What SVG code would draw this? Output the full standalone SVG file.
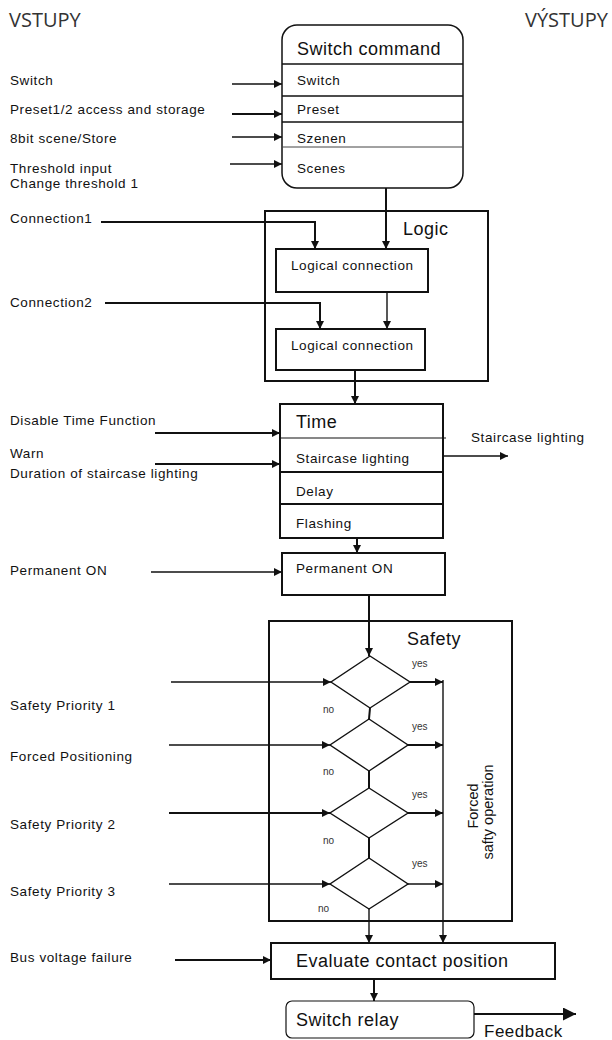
<svg xmlns="http://www.w3.org/2000/svg" width="612" height="1040" viewBox="0 0 612 1040">
<defs>
<style>
text{font-family:"Liberation Sans",Arial,sans-serif;fill:#111}
.lbl{font-size:13.5px;letter-spacing:0.6px}
.big{font-size:18px;letter-spacing:0.5px}
.hdr{font-family:"Open Sans","Noto Sans",sans-serif;font-size:20px;fill:#333}
.sm{font-size:10px;fill:#333}
.box{fill:#fff;stroke:#111;stroke-width:2}
.thin{fill:none;stroke:#111;stroke-width:1.3}
.ln{fill:none;stroke:#111;stroke-width:1.4}
.lnb{fill:none;stroke:#111;stroke-width:2}
.dia{fill:#fff;stroke:#111;stroke-width:1.4}
</style>
<marker id="arr" viewBox="0 0 10 10" refX="10" refY="5" markerWidth="9" markerHeight="8" markerUnits="userSpaceOnUse" orient="auto">
<path d="M0,0 L10,5 L0,10 z" fill="#111"/>
</marker>
<marker id="arrL" viewBox="0 0 10 10" refX="10" refY="5" markerWidth="13" markerHeight="13" markerUnits="userSpaceOnUse" orient="auto">
<path d="M0,0 L10,5 L0,10 z" fill="#111"/>
</marker>
</defs>
<rect width="612" height="1040" fill="#fff"/>

<text class="hdr" x="9" y="27">VSTUPY</text>
<text class="hdr" x="525" y="27">VÝSTUPY</text>

<g id="inputs">
<text class="lbl" x="10" y="85">Switch</text>
<text class="lbl" x="10" y="114">Preset1/2 access and storage</text>
<text class="lbl" x="10" y="143">8bit scene/Store</text>
<text class="lbl" x="10" y="173">Threshold input</text>
<text class="lbl" x="10" y="188">Change threshold 1</text>
<text class="lbl" x="10" y="223">Connection1</text>
<text class="lbl" x="10" y="307">Connection2</text>
<text class="lbl" x="10" y="425">Disable Time Function</text>
<text class="lbl" x="10" y="458">Warn</text>
<text class="lbl" x="10" y="478">Duration of staircase lighting</text>
<text class="lbl" x="10" y="575">Permanent ON</text>
<text class="lbl" x="10" y="710">Safety Priority 1</text>
<text class="lbl" x="10" y="761">Forced Positioning</text>
<text class="lbl" x="10" y="829">Safety Priority 2</text>
<text class="lbl" x="10" y="896">Safety Priority 3</text>
<text class="lbl" x="10" y="962">Bus voltage failure</text>
</g>

<g id="switch-command">
<rect x="282" y="25" width="181" height="163" rx="15" fill="#fff" stroke="#111" stroke-width="1.5"/>
<line class="thin" x1="282" y1="64" x2="463" y2="64"/>
<line class="thin" x1="282" y1="96" x2="463" y2="96"/>
<line class="thin" x1="282" y1="122" x2="463" y2="122"/>
<line x1="282" y1="147" x2="463" y2="147" stroke="#444" stroke-width="1"/>
<text class="big" x="297" y="55">Switch command</text>
<text class="lbl" x="297" y="85">Switch</text>
<text class="lbl" x="297" y="114">Preset</text>
<text class="lbl" x="297" y="143">Szenen</text>
<text class="lbl" x="297" y="173">Scenes</text>
</g>

<g id="logic">
<rect class="box" x="265" y="211" width="223" height="170"/>
<text class="big" x="403" y="235">Logic</text>
</g>
<g id="logical-connection-1">
<rect class="box" x="276" y="249" width="152" height="43"/>
<text class="lbl" x="291" y="270">Logical connection</text>
</g>
<g id="logical-connection-2">
<rect class="box" x="276" y="329" width="149" height="41"/>
<text class="lbl" x="291" y="350">Logical connection</text>
</g>

<g id="time">
<rect class="box" x="280" y="404" width="163" height="134"/>
<line x1="280" y1="438" x2="446" y2="438" stroke="#111" stroke-width="1.2"/>
<line class="lnb" x1="280" y1="472" x2="443" y2="472"/>
<line class="lnb" x1="280" y1="504" x2="443" y2="504"/>
<text class="big" x="296" y="428">Time</text>
<text class="lbl" x="296" y="463">Staircase lighting</text>
<text class="lbl" x="296" y="496">Delay</text>
<text class="lbl" x="296" y="528">Flashing</text>
</g>
<text class="lbl" x="471" y="442">Staircase lighting</text>

<g id="permanent-on">
<rect class="box" x="282" y="553" width="163" height="42"/>
<text class="lbl" x="296" y="573">Permanent ON</text>
</g>

<g id="safety">
<rect class="box" x="269" y="621" width="243" height="300" fill="none"/>
<text class="big" x="407" y="645">Safety</text>
<text class="lbl" transform="translate(478,806) rotate(-90)" text-anchor="middle" style="font-size:14.5px;letter-spacing:0">Forced</text>
<text class="lbl" transform="translate(493,812) rotate(-90)" text-anchor="middle" style="font-size:14.5px;letter-spacing:0">safty operation</text>
</g>
<g id="decision-1"><path class="dia" d="M370,656 L410,682 L370,708 L331,682 Z"/><text class="sm" x="412" y="667">yes</text><text class="sm" x="323" y="713">no</text></g>
<g id="decision-2"><path class="dia" d="M369,719 L408,745 L369,771 L330,745 Z"/><text class="sm" x="412" y="730">yes</text><text class="sm" x="323" y="775">no</text></g>
<g id="decision-3"><path class="dia" d="M369,788 L408,813 L369,838 L330,813 Z"/><text class="sm" x="412" y="798">yes</text><text class="sm" x="323" y="844">no</text></g>
<g id="decision-4"><path class="dia" d="M369,858 L408,884 L369,909 L330,884 Z"/><text class="sm" x="412" y="867">yes</text><text class="sm" x="318" y="912">no</text></g>

<g id="evaluate">
<rect class="box" x="271" y="943" width="284" height="36"/>
<text class="big" x="296" y="967">Evaluate contact position</text>
</g>

<g id="switch-relay">
<rect x="286" y="1001" width="188" height="37" rx="6" fill="#fff" stroke="#111" stroke-width="1.2"/>
<text class="big" x="296" y="1026">Switch relay</text>
</g>
<text class="big" x="484" y="1037" style="font-size:17px">Feedback</text>

<g id="connectors">
<line class="ln" x1="232" y1="84" x2="282" y2="84" marker-end="url(#arr)"/>
<line class="lnb" x1="232" y1="114" x2="282" y2="114" marker-end="url(#arr)"/>
<line class="ln" x1="232" y1="137" x2="282" y2="137" marker-end="url(#arr)"/>
<line class="ln" x1="230" y1="164" x2="282" y2="164" marker-end="url(#arr)"/>
<line class="lnb" x1="386" y1="188" x2="386" y2="249" marker-end="url(#arr)"/>
<polyline class="lnb" points="101,222 315,222 315,249" marker-end="url(#arr)"/>
<polyline class="lnb" points="105,303 320,303 320,329" marker-end="url(#arr)"/>
<line class="ln" x1="387" y1="292" x2="387" y2="329" marker-end="url(#arr)"/>
<line class="lnb" x1="355" y1="370" x2="355" y2="404" marker-end="url(#arr)"/>
<line class="lnb" x1="155" y1="433" x2="280" y2="433" marker-end="url(#arr)"/>
<line class="lnb" x1="155" y1="464" x2="280" y2="464" marker-end="url(#arr)"/>
<line class="ln" x1="443" y1="456" x2="508" y2="456" marker-end="url(#arr)"/>
<line class="lnb" x1="357" y1="538" x2="357" y2="553" marker-end="url(#arr)"/>
<line class="ln" x1="151" y1="572" x2="282" y2="572" marker-end="url(#arr)"/>
<line class="lnb" x1="369" y1="595" x2="369" y2="656" marker-end="url(#arr)"/>
<line class="ln" x1="171" y1="682" x2="331" y2="682" marker-end="url(#arr)"/>
<line class="ln" x1="169" y1="745" x2="330" y2="745" marker-end="url(#arr)"/>
<line class="lnb" x1="169" y1="813" x2="330" y2="813" marker-end="url(#arr)"/>
<line class="ln" x1="169" y1="884" x2="330" y2="884" marker-end="url(#arr)"/>
<line class="lnb" x1="410" y1="682" x2="443" y2="682" marker-end="url(#arr)"/>
<line class="lnb" x1="408" y1="745" x2="443" y2="745" marker-end="url(#arr)"/>
<line class="lnb" x1="408" y1="813" x2="443" y2="813" marker-end="url(#arr)"/>
<line class="ln" x1="408" y1="884" x2="443" y2="884" marker-end="url(#arr)"/>
<line class="lnb" x1="370" y1="708" x2="369" y2="719"/>
<line class="lnb" x1="369" y1="771" x2="369" y2="788"/>
<line class="lnb" x1="369" y1="838" x2="369" y2="858"/>
<line class="ln" x1="369" y1="909" x2="369" y2="943" marker-end="url(#arr)"/>
<line class="ln" x1="443" y1="680" x2="443" y2="943" marker-end="url(#arr)"/>
<line class="lnb" x1="175" y1="960" x2="271" y2="960" marker-end="url(#arr)"/>
<line class="lnb" x1="374" y1="979" x2="374" y2="1001" marker-end="url(#arr)"/>
<line class="lnb" x1="474" y1="1014" x2="576" y2="1014" marker-end="url(#arrL)"/>
</g>
</svg>
